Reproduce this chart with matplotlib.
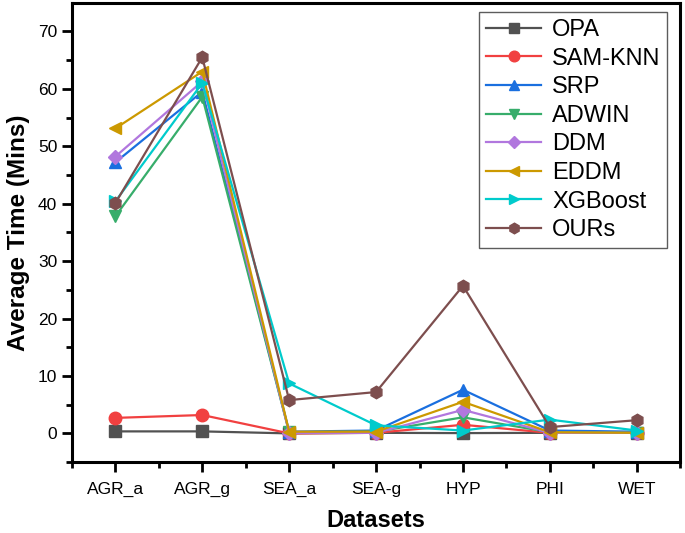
import matplotlib.pyplot as plt
import numpy as np

plt.rcParams['font.family'] = ['Liberation Sans', 'DejaVu Sans']

datasets = ["AGR_a", "AGR_g", "SEA_a", "SEA-g", "HYP", "PHI", "WET"]

opa = [0.35, 0.35, 0.0, 0.1, 0.05, 0.1, 0.1]
sam_knn = [2.7, 3.2, 0.0, 0.1, 1.5, 0.1, 0.1]
srp = [47.2, 59.5, 0.3, 0.5, 7.6, 0.5, 0.3]
adwin = [37.8, 58.6, 0.2, 0.3, 2.8, 0.2, 0.1]
ddm = [48.2, 61.3, 0.1, 0.1, 4.1, 0.1, 0.1]
eddm = [53.1, 63.0, 0.3, 0.3, 5.5, 0.2, 0.1]
xgboost = [40.4, 61.0, 8.7, 1.4, 0.5, 2.4, 0.5]
ours = [40.1, 65.5, 5.8, 7.2, 25.7, 1.1, 2.3]

series = [
    ("OPA", opa, "#515151", "s"),
    ("SAM-KNN", sam_knn, "#F14040", "o"),
    ("SRP", srp, "#1A6FDF", "^"),
    ("ADWIN", adwin, "#37AD6B", "v"),
    ("DDM", ddm, "#B177DE", "D"),
    ("EDDM", eddm, "#CC9900", "<"),
    ("XGBoost", xgboost, "#00CBCC", ">"),
    ("OURs", ours, "#7D4E4E", "h"),
]

x = np.arange(1, len(datasets) + 1)

fig, ax = plt.subplots(figsize=(6.85, 5.33), dpi=100)
fig.subplots_adjust(left=0.105, right=0.993, top=0.995, bottom=0.133)

for name, vals, col, mk in series:
    ms = 7 if mk == "D" else 9
    ax.plot(x, vals, color=col, marker=mk, markersize=ms, linewidth=1.6, label=name)

ax.set_xlim(0.5, 7.5)
ax.set_ylim(-5, 75)
ax.set_xticks(x)
ax.set_xticklabels(datasets, fontsize=12.5)
ax.set_xticks(np.arange(0.5, 7.6, 1.0), minor=True)
ax.set_yticks(np.arange(0, 71, 10))
ax.set_yticks(np.arange(-5, 75, 5), minor=True)
ax.tick_params(axis='y', labelsize=12.5)
ax.tick_params(axis='x', pad=7)
ax.tick_params(which='major', direction='out', length=7, width=2)
ax.tick_params(which='minor', direction='out', length=4, width=2)
for s in ax.spines.values():
    s.set_linewidth(2.2)

ax.set_xlabel("Datasets", fontsize=17, fontweight='bold', labelpad=9)
ax.set_ylabel("Average Time (Mins)", fontsize=17.5, fontweight='bold', labelpad=6)

leg = ax.legend(loc='upper right', fontsize=17, handlelength=2.35, frameon=True,
                fancybox=False, borderpad=0.3, labelspacing=0.28,
                handletextpad=0.45, borderaxespad=0, markerscale=0.85,
                bbox_to_anchor=(0.979, 0.980))
leg.get_frame().set_edgecolor('#333333')
leg.get_frame().set_linewidth(1.0)

fig.savefig("out.png", dpi=100)
